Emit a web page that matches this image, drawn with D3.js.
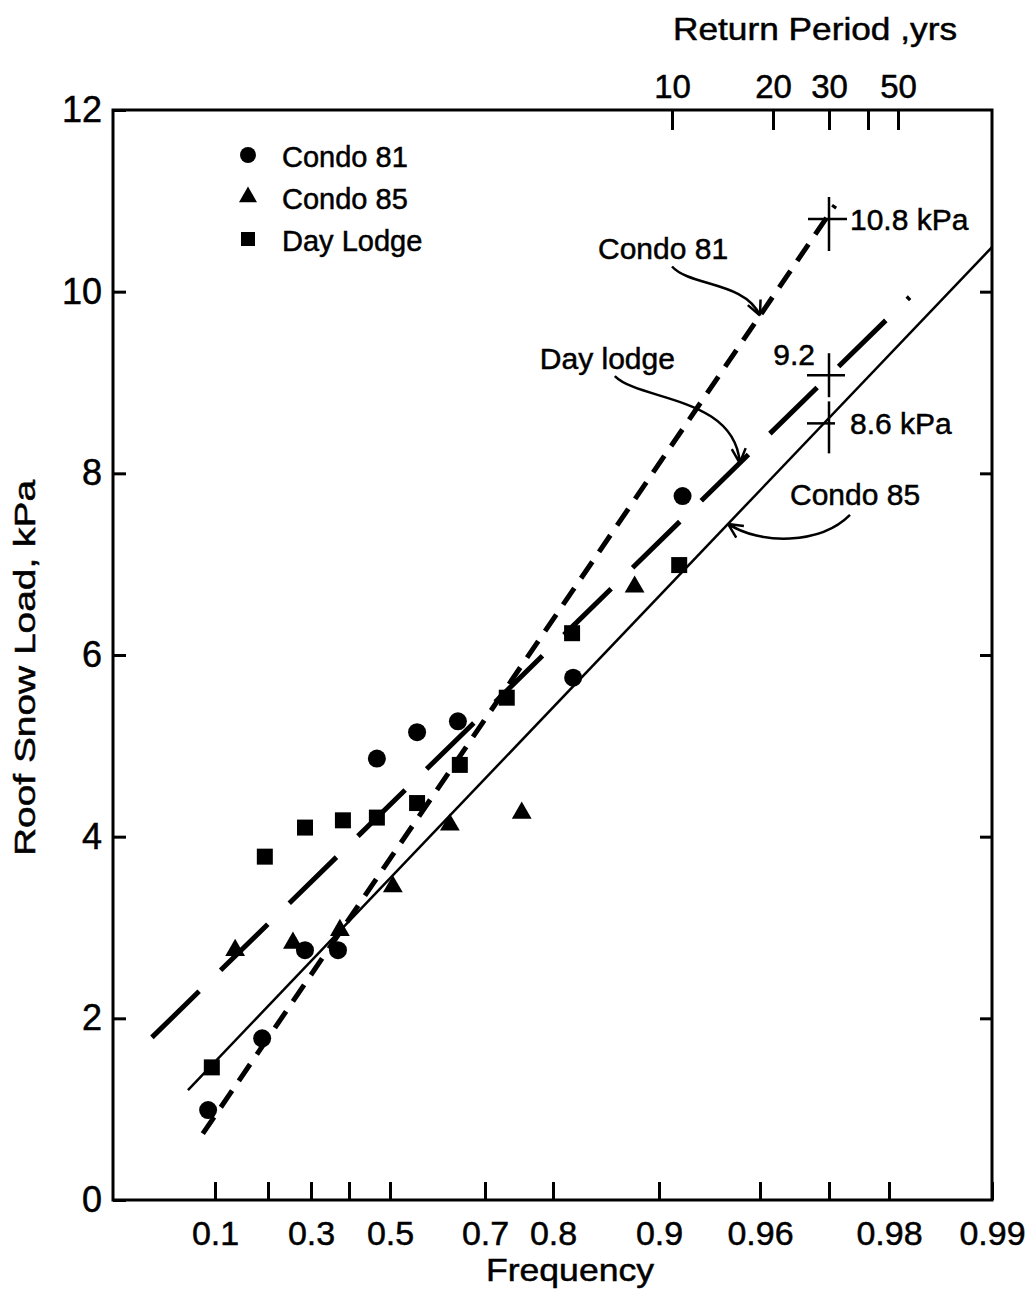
<!DOCTYPE html>
<html>
<head>
<meta charset="utf-8">
<script src="https://cdn.jsdelivr.net/npm/d3@7"></script>
<style>
  body { margin: 0; background: #fff; }
  svg text { font-family: "Liberation Sans", Arial, Helvetica, sans-serif; fill: #000; stroke: #000; stroke-width: 0.5px; }
</style>
</head>
<body>
<div id="chart"></div>
<script>
// probability paper: frequency ticks along the bottom, return period along the top
var freqTicks = [0.1, 0.2, 0.3, 0.4, 0.5, 0.7, 0.8, 0.9, 0.96, 0.97, 0.98, 0.99];
var freqLabels = ['0.1', '', '0.3', '', '0.5', '0.7', '0.8', '0.9', '0.96', '', '0.98', '0.99'];
var periodTicks = [10, 20, 30, 40, 50];
var periodLabels = ['10', '20', '30', '', '50'];
var loadTicks = [0, 2, 4, 6, 8, 10, 12];

// observed annual maxima (frequency, roof snow load kPa)
var condo81Freq = [0.087, 0.189, 0.286, 0.371, 0.468, 0.557, 0.643, 0.819, 0.914];
var condo81Load = [0.99, 1.78, 2.75, 2.75, 4.86, 5.15, 5.27, 5.75, 7.75];
var condo85Freq = [0.138, 0.258, 0.376, 0.506, 0.626, 0.754, 0.877];
var condo85Load = [2.75, 2.83, 2.97, 3.45, 4.13, 4.26, 6.75];
var dayLodgeFreq = [0.094, 0.194, 0.286, 0.384, 0.468, 0.557, 0.647, 0.732, 0.818, 0.912];
var dayLodgeLoad = [1.46, 3.78, 4.10, 4.18, 4.21, 4.37, 4.79, 5.53, 6.24, 6.99];

// fitted lines, start and end points
var condo81Fit = [[0.077, 0.73], [0.971, 10.95]];
var condo85Fit = [[0.049, 1.21], [0.99, 10.49]];
var dayLodgeFit = [[-0.019, 1.79], [0.982, 9.94]];

// 30-year design values read where the fits cross the 30 yr line
var designPeriod = 30;
var designLoads = [10.8, 9.08, 8.55];
var designLabels = ['10.8 kPa', '9.2', '8.6 kPa'];

var legendNames = ['Condo 81', 'Condo 85', 'Day Lodge'];

(function () {
    var frame = {left: 113, right: 992, top: 110, bottom: 1200};
    var svg = d3.select('#chart').append('svg')
        .attr('width', 1036).attr('height', 1312);

    // the paper is not evenly ruled, so both x scales are piecewise linear
    var x = d3.scaleLinear().domain(freqTicks)
        .range([215, 268, 311, 349, 390, 485, 553, 659, 760, 829, 889, frame.right]);
    var xTop = d3.scaleLinear().domain(periodTicks)
        .range([672, 773, 829, 868, 898]);
    var y = d3.scaleLinear().domain([0, 12]).range([frame.bottom, frame.top]);

    var styleAxis = function (g, size) {
        g.select('.domain').remove();
        g.selectAll('line').attr('stroke', '#000').attr('stroke-width', 3);
        g.selectAll('text').attr('font-size', size).attr('fill', '#000')
            .attr('font-family', '"Liberation Sans", Arial, sans-serif');
    };

    svg.append('g').attr('transform', 'translate(0,' + frame.bottom + ')')
        .call(d3.axisBottom(x).tickValues(freqTicks)
            .tickFormat(function (d, i) { return freqLabels[i]; })
            .tickSize(-18).tickPadding(21))
        .call(styleAxis, 34);

    svg.append('g').attr('transform', 'translate(0,' + frame.top + ')')
        .call(d3.axisTop(xTop).tickValues(periodTicks)
            .tickFormat(function (d, i) { return periodLabels[i]; })
            .tickSize(-20).tickPadding(12))
        .call(styleAxis, 33);

    svg.append('g').attr('transform', 'translate(' + frame.left + ',0)')
        .call(d3.axisLeft(y).tickValues(loadTicks).tickFormat(d3.format('d'))
            .tickSize(-13).tickPadding(11))
        .call(styleAxis, 36);

    svg.append('g').attr('transform', 'translate(' + frame.right + ',0)')
        .call(d3.axisRight(y).tickValues(loadTicks.slice(1, -1)).tickFormat('')
            .tickSize(-12))
        .call(styleAxis, 10);

    svg.append('rect')
        .attr('x', frame.left).attr('y', frame.top)
        .attr('width', frame.right - frame.left).attr('height', frame.bottom - frame.top)
        .attr('fill', 'none').attr('stroke', '#000').attr('stroke-width', 3);

    // axis titles
    svg.append('text').attr('x', 673).attr('y', 40)
        .attr('font-size', 32).attr('textLength', 284).attr('lengthAdjust', 'spacingAndGlyphs')
        .text('Return Period ,yrs');
    svg.append('text').attr('x', 570).attr('y', 1281).attr('text-anchor', 'middle')
        .attr('font-size', 32).attr('textLength', 168).attr('lengthAdjust', 'spacingAndGlyphs')
        .text('Frequency');
    svg.append('text').attr('transform', 'translate(35,668) rotate(-90)')
        .attr('text-anchor', 'middle')
        .attr('font-size', 30).attr('textLength', 376).attr('lengthAdjust', 'spacingAndGlyphs')
        .text('Roof Snow Load, kPa');

    // fitted lines
    var line = d3.line()
        .x(function (d) { return x(d[0]); })
        .y(function (d) { return y(d[1]); });
    var fits = [
        {pts: condo81Fit, width: 5, dash: '20,12'},
        {pts: condo85Fit, width: 2.5, dash: null},
        {pts: dayLodgeFit, width: 5, dash: '66,30'}
    ];
    svg.selectAll('path.fit').data(fits).enter().append('path')
        .attr('class', 'fit')
        .attr('d', function (d) { return line(d.pts); })
        .attr('fill', 'none').attr('stroke', '#000')
        .attr('stroke-width', function (d) { return d.width; })
        .attr('stroke-dasharray', function (d) { return d.dash; });

    // data points
    var series = [
        {freq: condo81Freq, load: condo81Load, type: d3.symbolCircle, size: 254},
        {freq: condo85Freq, load: condo85Load, type: d3.symbolTriangle, size: 170},
        {freq: dayLodgeFreq, load: dayLodgeLoad, type: d3.symbolSquare, size: 256}
    ];
    series.forEach(function (s) {
        var sym = d3.symbol().type(s.type).size(s.size);
        svg.append('g').selectAll('path').data(s.freq).enter().append('path')
            .attr('d', sym)
            .attr('transform', function (d, i) {
                return 'translate(' + x(d) + ',' + y(s.load[i]) + ')';
            })
            .attr('fill', '#000');
    });

    // legend
    var legendTypes = [d3.symbolCircle, d3.symbolTriangle, d3.symbolSquare];
    var legendSizes = [200, 140, 196];
    var legend = svg.append('g').attr('transform', 'translate(248,155)');
    legendNames.forEach(function (name, i) {
        legend.append('path')
            .attr('d', d3.symbol().type(legendTypes[i]).size(legendSizes[i]))
            .attr('transform', 'translate(0,' + (i * 42) + ')')
            .attr('fill', '#000');
        legend.append('text').attr('x', 34).attr('y', i * 42 + 12)
            .attr('font-size', 29).text(name);
    });

    // 30-year crosses and their values
    var cx = xTop(designPeriod);
    var arms = [[-21, 18, -22, 32], [-22, 16, -22, 22], [-22, 6, -22, 30]];
    designLoads.forEach(function (v, i) {
        var cy = y(v), a = arms[i];
        svg.append('line').attr('x1', cx + a[0]).attr('x2', cx + a[1])
            .attr('y1', cy).attr('y2', cy).attr('stroke', '#000').attr('stroke-width', 2.5);
        svg.append('line').attr('x1', cx).attr('x2', cx)
            .attr('y1', cy + a[2]).attr('y2', cy + a[3]).attr('stroke', '#000').attr('stroke-width', 2.5);
        var t = svg.append('text').attr('font-size', 30).text(designLabels[i]);
        if (i === 1) {
            t.attr('x', cx - 14).attr('y', cy - 10).attr('text-anchor', 'end');
        } else {
            t.attr('x', cx + 21).attr('y', cy + 11);
        }
    });

    // curved pointers from the labels to the fitted lines
    var fitPoint = function (fit, f) {
        var ax = x(fit[0][0]), ay = y(fit[0][1]);
        var bx = x(fit[1][0]), by = y(fit[1][1]);
        var px = x(f);
        return [px, ay + (by - ay) * (px - ax) / (bx - ax)];
    };
    var notes = [
        {text: 'Condo 81', fit: condo81Fit, at: 0.96, tail: [-88, -49], c1: [-70, -29], c2: [-15, -34], label: [-162, -57]},
        {text: 'Day lodge', fit: dayLodgeFit, at: 0.948, tail: [-125, -87], c1: [-100, -62], c2: [-5, -67], label: [-200, -94]},
        {text: 'Condo 85', fit: condo85Fit, at: 0.941, tail: [122, -9], c1: [92, 21], c2: [32, 21], label: [62, -19]}
    ];
    notes.forEach(function (n) {
        var tip = fitPoint(n.fit, n.at);
        var p = d3.path();
        p.moveTo(tip[0] + n.tail[0], tip[1] + n.tail[1]);
        p.bezierCurveTo(tip[0] + n.c1[0], tip[1] + n.c1[1],
                        tip[0] + n.c2[0], tip[1] + n.c2[1], tip[0], tip[1]);
        var ang = Math.atan2(-n.c2[1], -n.c2[0]);
        var head = d3.path();
        [-0.45, 0.45].forEach(function (da) {
            head.moveTo(tip[0] - 16 * Math.cos(ang + da), tip[1] - 16 * Math.sin(ang + da));
            head.lineTo(tip[0], tip[1]);
        });
        svg.append('path').attr('d', p.toString() + head.toString())
            .attr('fill', 'none').attr('stroke', '#000').attr('stroke-width', 2.5);
        svg.append('text').attr('x', tip[0] + n.label[0]).attr('y', tip[1] + n.label[1])
            .attr('font-size', 30).text(n.text);
    });
}());
</script>
</body>
</html>
